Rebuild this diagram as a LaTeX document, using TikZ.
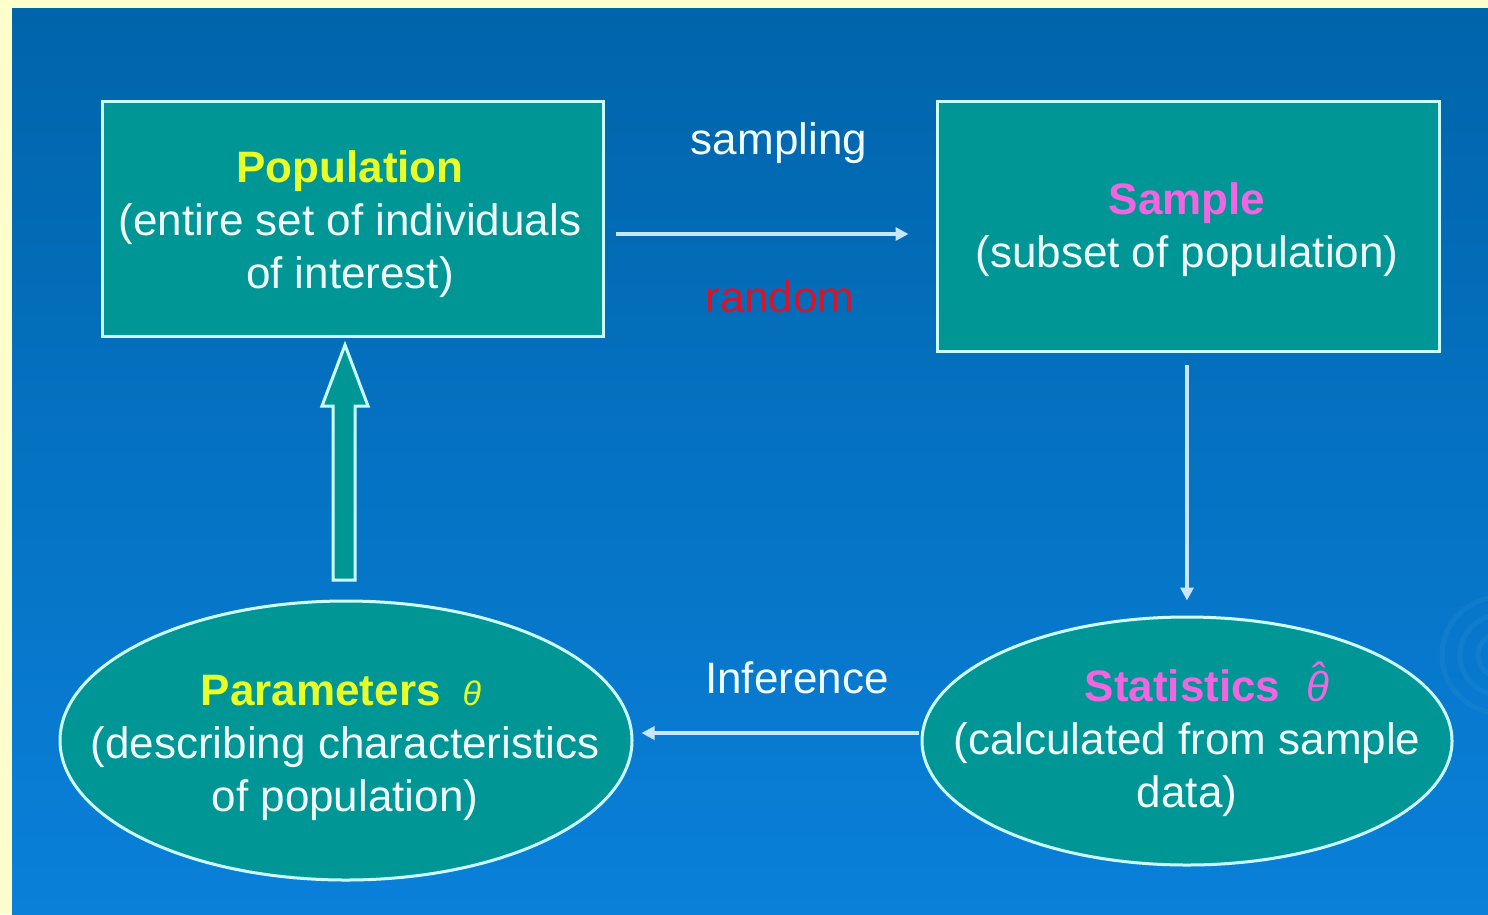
\documentclass[tikz,border=0pt]{standalone}
\usepackage{fontspec}
\setmainfont{Liberation Sans}
\usetikzlibrary{arrows.meta,shapes.geometric,calc}
\definecolor{frame}{RGB}{255,255,204}
\definecolor{bgtop}{RGB}{0,100,170}
\definecolor{bgbot}{RGB}{10,128,218}
\definecolor{tealfill}{RGB}{0,150,150}
\definecolor{edge}{RGB}{204,255,255}
\definecolor{conncol}{RGB}{200,230,255}
\definecolor{titleyellow}{RGB}{232,255,40}
\definecolor{titlepink}{RGB}{240,102,224}
\definecolor{txtwhite}{RGB}{240,255,255}
\definecolor{randred}{RGB}{215,20,40}
\newcommand\thetahatsym{\ooalign{\textit{θ}\cr\hidewidth\raisebox{0.22em}{\textit{ˆ}}\hidewidth\cr}}
\begin{document}
\begin{tikzpicture}[x=1pt,y=-1pt,
  boxshape/.style={draw=edge,line width=3pt,fill=tealfill,rectangle,inner sep=0pt},
  ellshape/.style={draw=edge,line width=3pt,fill=tealfill,ellipse,inner sep=0pt},
  bodytext/.style={text=txtwhite,align=center,inner sep=0pt,font=\fontsize{44}{53}\selectfont},
  conn/.style={draw=conncol,line width=3.2pt,-{Triangle[length=13pt,width=13pt]}}
]
\useasboundingbox (0,0) rectangle (1488,914);
\fill[frame] (0,0) rectangle (1488,914);
\shade[top color=bgtop,bottom color=bgbot] (12,8) rectangle (1488,914);
% faint ripples
\begin{scope}
\clip (12,8) rectangle (1488,914);
\foreach \r in {22,40,58}{
  \draw[white,opacity=0.04,line width=5pt] (1500,655) circle[radius=\r];
}
\end{scope}

% shapes
\node[boxshape,minimum width=501pt,minimum height=235pt] (pop) at (352.5,218.5) {};
\node[boxshape,minimum width=502pt,minimum height=250pt] (samp) at (1188,226) {};
\node[ellshape,minimum width=572pt,minimum height=279pt] (params) at (346,740.5) {};
\node[ellshape,minimum width=530pt,minimum height=248pt] (stats) at (1187,741) {};

% texts
\node[bodytext] (poptxt) at (350,224) {{\bfseries\color{titleyellow}Population}\\(entire set of individuals\\of interest)};
\node[bodytext] (samptxt) at (1187,230) {{\bfseries\color{titlepink}Sample}\\(subset of population)};
\node[bodytext] (paramtxt) at (345,748) {\hspace*{-8pt}{\bfseries\color{titleyellow}Parameters}\hspace{22pt}{\color{titleyellow}\fontsize{34}{53}\selectfont\textit{θ}}\\(describing characteristics\\of population)};
\node[bodytext] (stattxt) at (1187,743) {\hspace*{40pt}{\bfseries\color{titlepink}Statistics}\hspace{26pt}{\color{titlepink}\fontsize{42}{53}\selectfont\thetahatsym}\\(calculated from sample\\data)};

\node[bodytext] (lsamp) at (779,143) {sampling};
\node[bodytext,text=randred] (lrand) at (780,297) {random};
\node[bodytext] (linf) at (797,678) {Inference};

% connectors
\draw[conn,shorten <=11pt,shorten >=27pt] (pop.east |- 0,234) -- (samp.west |- 0,234);
\draw[conn,shorten <=14pt,shorten >=15pt] (1187,351) -- (stats.north);
\draw[conn,shorten <=2pt,shorten >=8pt] (stats.west |- 0,733) -- (params.east |- 0,733);

% block arrow
\draw[draw=edge,line width=3pt,fill=tealfill,line join=miter]
  (345,345) -- (368,406) -- (355,406) -- (355,580) -- (333,580) -- (333,406) -- (322,406) -- cycle;
\end{tikzpicture}
\end{document}
